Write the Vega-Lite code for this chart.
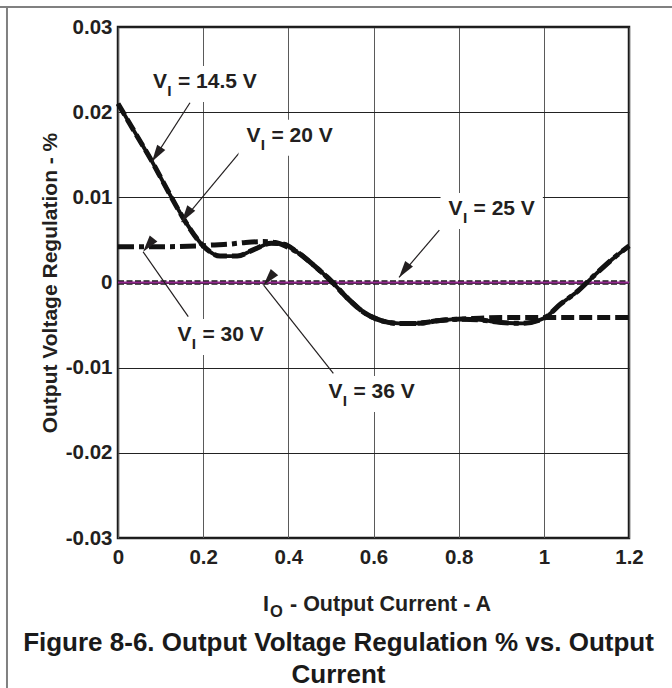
{
  "$schema": "https://vega.github.io/schema/vega-lite/v6.json",
  "width": 511,
  "height": 511,
  "autosize": {"type": "none"},
  "padding": {"left": 118, "top": 27, "right": 43, "bottom": 150},
  "background": "white",
  "config": {
    "view": {"stroke": "#1a1a1a", "strokeWidth": 2.5},
    "font": "Liberation Sans",
    "text": {"font": "Liberation Sans", "fontWeight": "bold", "color": "#231f20"}
  },
  "title": {
    "text": ["Figure 8-6. Output Voltage Regulation % vs. Output", "Current"],
    "orient": "bottom",
    "anchor": "middle",
    "frame": "group",
    "offset": -59,
    "dx": -35,
    "fontSize": 26,
    "font": "Liberation Sans",
    "fontWeight": "bold",
    "color": "#1a1a1a",
    "lineHeight": 32
  },
  "datasets": {
    "curves": [
      {"series": "25 V", "x": 0, "y": 0},
      {"series": "25 V", "x": 1.2, "y": 0},
      {"series": "36 V", "x": 0, "y": 0},
      {"series": "36 V", "x": 1.2, "y": 0},

      {"series": "14.5 V", "x": 0, "y": 0.0210},
      {"series": "14.5 V", "x": 0.04, "y": 0.0176},
      {"series": "14.5 V", "x": 0.08, "y": 0.0142},
      {"series": "14.5 V", "x": 0.12, "y": 0.0105},
      {"series": "14.5 V", "x": 0.16, "y": 0.0070},
      {"series": "14.5 V", "x": 0.20, "y": 0.0043},
      {"series": "14.5 V", "x": 0.24, "y": 0.0031},
      {"series": "14.5 V", "x": 0.28, "y": 0.0031},
      {"series": "14.5 V", "x": 0.32, "y": 0.0039},
      {"series": "14.5 V", "x": 0.36, "y": 0.0046},
      {"series": "14.5 V", "x": 0.39, "y": 0.0045},
      {"series": "14.5 V", "x": 0.42, "y": 0.0036},
      {"series": "14.5 V", "x": 0.46, "y": 0.0020},
      {"series": "14.5 V", "x": 0.50, "y": 0.0002},
      {"series": "14.5 V", "x": 0.54, "y": -0.0019},
      {"series": "14.5 V", "x": 0.58, "y": -0.0036},
      {"series": "14.5 V", "x": 0.62, "y": -0.0045},
      {"series": "14.5 V", "x": 0.66, "y": -0.0048},
      {"series": "14.5 V", "x": 0.70, "y": -0.0048},
      {"series": "14.5 V", "x": 0.75, "y": -0.0045},
      {"series": "14.5 V", "x": 0.80, "y": -0.0043},
      {"series": "14.5 V", "x": 0.85, "y": -0.0044},
      {"series": "14.5 V", "x": 0.90, "y": -0.0047},
      {"series": "14.5 V", "x": 0.95, "y": -0.0048},
      {"series": "14.5 V", "x": 1.00, "y": -0.0042},
      {"series": "14.5 V", "x": 1.04, "y": -0.0025},
      {"series": "14.5 V", "x": 1.08, "y": -0.0010},
      {"series": "14.5 V", "x": 1.12, "y": 0.0009},
      {"series": "14.5 V", "x": 1.16, "y": 0.0027},
      {"series": "14.5 V", "x": 1.20, "y": 0.0043},

      {"series": "20 V", "x": 0, "y": 0.0210},
      {"series": "20 V", "x": 0.04, "y": 0.0176},
      {"series": "20 V", "x": 0.08, "y": 0.0142},
      {"series": "20 V", "x": 0.12, "y": 0.0105},
      {"series": "20 V", "x": 0.16, "y": 0.0070},
      {"series": "20 V", "x": 0.20, "y": 0.0043},
      {"series": "20 V", "x": 0.24, "y": 0.0031},
      {"series": "20 V", "x": 0.28, "y": 0.0031},
      {"series": "20 V", "x": 0.32, "y": 0.0039},
      {"series": "20 V", "x": 0.36, "y": 0.0046},
      {"series": "20 V", "x": 0.39, "y": 0.0045},
      {"series": "20 V", "x": 0.42, "y": 0.0036},
      {"series": "20 V", "x": 0.46, "y": 0.0020},
      {"series": "20 V", "x": 0.50, "y": 0.0002},
      {"series": "20 V", "x": 0.54, "y": -0.0019},
      {"series": "20 V", "x": 0.58, "y": -0.0036},
      {"series": "20 V", "x": 0.62, "y": -0.0045},
      {"series": "20 V", "x": 0.66, "y": -0.0048},
      {"series": "20 V", "x": 0.70, "y": -0.0048},
      {"series": "20 V", "x": 0.75, "y": -0.0045},
      {"series": "20 V", "x": 0.80, "y": -0.0043},
      {"series": "20 V", "x": 0.85, "y": -0.0042},
      {"series": "20 V", "x": 0.90, "y": -0.0041},
      {"series": "20 V", "x": 1.00, "y": -0.0041},
      {"series": "20 V", "x": 1.10, "y": -0.0041},
      {"series": "20 V", "x": 1.20, "y": -0.0041},

      {"series": "30 V", "x": 0, "y": 0.0042},
      {"series": "30 V", "x": 0.10, "y": 0.0042},
      {"series": "30 V", "x": 0.19, "y": 0.0043},
      {"series": "30 V", "x": 0.22, "y": 0.0044},
      {"series": "30 V", "x": 0.26, "y": 0.0045},
      {"series": "30 V", "x": 0.30, "y": 0.0047},
      {"series": "30 V", "x": 0.34, "y": 0.0048},
      {"series": "30 V", "x": 0.37, "y": 0.0047},
      {"series": "30 V", "x": 0.40, "y": 0.0041},
      {"series": "30 V", "x": 0.42, "y": 0.0036},
      {"series": "30 V", "x": 0.46, "y": 0.0020},
      {"series": "30 V", "x": 0.50, "y": 0.0002},
      {"series": "30 V", "x": 0.54, "y": -0.0019},
      {"series": "30 V", "x": 0.58, "y": -0.0036},
      {"series": "30 V", "x": 0.62, "y": -0.0045},
      {"series": "30 V", "x": 0.66, "y": -0.0048},
      {"series": "30 V", "x": 0.70, "y": -0.0048},
      {"series": "30 V", "x": 0.75, "y": -0.0045},
      {"series": "30 V", "x": 0.80, "y": -0.0043},
      {"series": "30 V", "x": 0.85, "y": -0.0044},
      {"series": "30 V", "x": 0.90, "y": -0.0047},
      {"series": "30 V", "x": 0.95, "y": -0.0048},
      {"series": "30 V", "x": 1.00, "y": -0.0042},
      {"series": "30 V", "x": 1.04, "y": -0.0025},
      {"series": "30 V", "x": 1.08, "y": -0.0010},
      {"series": "30 V", "x": 1.12, "y": 0.0009},
      {"series": "30 V", "x": 1.16, "y": 0.0027},
      {"series": "30 V", "x": 1.20, "y": 0.0043}
    ],
    "notes": [
      {"series": "14.5 V", "text": "= 14.5 V", "lx": 0.121, "ly": 0.02284, "tx": 0.169, "ty": 0.0211, "hx": 0.080, "hy": 0.0142},
      {"series": "20 V", "text": "= 20 V", "lx": 0.3405, "ly": 0.01653, "tx": 0.2906, "ty": 0.01556, "hx": 0.1495, "hy": 0.0071},
      {"series": "25 V", "text": "= 25 V", "lx": 0.815, "ly": 0.00793, "tx": 0.7546, "ty": 0.00616, "hx": 0.66, "hy": 0.0006},
      {"series": "30 V", "text": "= 30 V", "lx": 0.1785, "ly": -0.00687, "tx": 0.165, "ty": -0.00401, "hx": 0.059, "hy": 0.0036},
      {"series": "36 V", "text": "= 36 V", "lx": 0.533, "ly": -0.01356, "tx": 0.5057, "ty": -0.01066, "hx": 0.342, "hy": -0.0003}
    ]
  },
  "layer": [
    {
      "data": {"name": "curves"},
      "transform": [{"filter": "datum.series === '25 V'"}],
      "mark": {"type": "line", "strokeWidth": 4.4, "strokeDash": [6, 2.5], "color": "#1a1a1a"},
      "encoding": {
        "x": {
          "field": "x", "type": "quantitative",
          "scale": {"domain": [0, 1.2], "nice": false, "zero": false},
          "axis": {
            "values": [0, 0.2, 0.4, 0.6, 0.8, 1, 1.2],
            "labelExpr": "format(datum.value, '~g')",
            "title": null,
            "domain": false, "ticks": false, "grid": true,
            "gridColor": "#5a5a5a", "gridWidth": 1,
            "labelFont": "Liberation Sans", "labelFontWeight": "bold", "labelFontSize": 20.5,
            "labelColor": "#231f20", "labelPadding": 9, "labelFlush": false, "labelOverlap": false
          }
        },
        "y": {
          "field": "y", "type": "quantitative",
          "scale": {"domain": [-0.03, 0.03], "nice": false, "zero": false},
          "axis": {
            "values": [-0.03, -0.02, -0.01, 0, 0.01, 0.02, 0.03],
            "labelExpr": "datum.value == 0 ? '0' : (datum.value < 0 ? '-' + format(-datum.value, '.2f') : format(datum.value, '.2f'))",
            "title": "Output Voltage Regulation - %",
            "titleFont": "Liberation Sans", "titleFontWeight": "bold", "titleFontSize": 21,
            "titleColor": "#231f20", "titlePadding": 5,
            "domain": false, "ticks": false, "grid": true,
            "gridColor": "#222222", "gridWidth": 1,
            "labelFont": "Liberation Sans", "labelFontWeight": "bold", "labelFontSize": 20.5,
            "labelColor": "#231f20", "labelPadding": 6, "labelFlush": false, "labelOverlap": false
          }
        }
      }
    },
    {
      "data": {"name": "curves"},
      "transform": [{"filter": "datum.series === '36 V'"}],
      "mark": {"type": "line", "strokeWidth": 2.2, "color": "#93298f"},
      "encoding": {"x": {"field": "x", "type": "quantitative"}, "y": {"field": "y", "type": "quantitative"}}
    },
    {
      "data": {"name": "curves"},
      "transform": [{"filter": "datum.series === '14.5 V'"}],
      "mark": {"type": "line", "strokeWidth": 3.8, "color": "#121212", "interpolate": "monotone"},
      "encoding": {"x": {"field": "x", "type": "quantitative"}, "y": {"field": "y", "type": "quantitative"}}
    },
    {
      "data": {"name": "curves"},
      "transform": [{"filter": "datum.series === '20 V'"}],
      "mark": {"type": "line", "strokeWidth": 5, "strokeDash": [13, 5], "color": "#121212", "interpolate": "monotone"},
      "encoding": {"x": {"field": "x", "type": "quantitative"}, "y": {"field": "y", "type": "quantitative"}}
    },
    {
      "data": {"name": "curves"},
      "transform": [{"filter": "datum.series === '30 V'"}],
      "mark": {"type": "line", "strokeWidth": 5, "strokeDash": [16, 5, 5, 5], "color": "#121212", "interpolate": "monotone"},
      "encoding": {"x": {"field": "x", "type": "quantitative"}, "y": {"field": "y", "type": "quantitative"}}
    },
    {
      "data": {"name": "notes"},
      "mark": {"type": "rule", "strokeWidth": 1.2, "color": "#231f20"},
      "encoding": {
        "x": {"field": "tx", "type": "quantitative"},
        "y": {"field": "ty", "type": "quantitative"},
        "x2": {"field": "hx"},
        "y2": {"field": "hy"}
      }
    },
    {
      "data": {"name": "notes"},
      "mark": {"type": "point", "shape": "M0,0L-0.6,2.1L0.6,2.1Z", "filled": true, "size": 260, "opacity": 1, "color": "#231f20", "strokeWidth": 0},
      "encoding": {
        "x": {"field": "hx", "type": "quantitative"},
        "y": {"field": "hy", "type": "quantitative"},
        "angle": {
          "field": "series", "type": "nominal",
          "scale": {"domain": ["14.5 V", "20 V", "25 V", "30 V", "36 V"], "range": [212.8, 219.8, 220.4, 325.1, 321.7]},
          "legend": null
        }
      }
    },
    {
      "data": {"name": "notes"},
      "mark": {"type": "point", "filled": true, "size": 10000, "opacity": 1, "fill": "white", "strokeWidth": 0},
      "encoding": {
        "x": {"field": "lx", "type": "quantitative"},
        "y": {"field": "ly", "type": "quantitative"},
        "shape": {
          "field": "series", "type": "nominal",
          "scale": {
            "domain": ["14.5 V", "20 V", "25 V", "30 V", "36 V"],
            "range": [
              "M-0.49,-0.44H1.906V0.28H-0.49Z",
              "M-0.49,-0.44H1.556V0.28H-0.49Z",
              "M-0.49,-0.44H1.556V0.28H-0.49Z",
              "M-0.49,-0.44H1.556V0.28H-0.49Z",
              "M-0.49,-0.44H1.556V0.28H-0.49Z"
            ]
          },
          "legend": null
        }
      }
    },
    {
      "data": {"name": "notes"},
      "mark": {"type": "text", "text": "V", "align": "right", "baseline": "alphabetic", "dx": -2.5, "fontSize": 21},
      "encoding": {
        "x": {"field": "lx", "type": "quantitative"},
        "y": {"field": "ly", "type": "quantitative"}
      }
    },
    {
      "data": {"name": "notes"},
      "mark": {"type": "text", "text": "I", "align": "center", "baseline": "alphabetic", "dy": 8, "fontSize": 15.5},
      "encoding": {
        "x": {"field": "lx", "type": "quantitative"},
        "y": {"field": "ly", "type": "quantitative"}
      }
    },
    {
      "data": {"name": "notes"},
      "mark": {"type": "text", "align": "left", "baseline": "alphabetic", "dx": 8.5, "fontSize": 21},
      "encoding": {
        "x": {"field": "lx", "type": "quantitative"},
        "y": {"field": "ly", "type": "quantitative"},
        "text": {"field": "text"}
      }
    },
    {
      "data": {"values": [{}]},
      "mark": {"type": "text", "text": "I", "align": "right", "baseline": "alphabetic", "fontSize": 21.5, "clip": false},
      "encoding": {"x": {"datum": 0.3546}, "y": {"datum": -0.0386}}
    },
    {
      "data": {"values": [{}]},
      "mark": {"type": "text", "text": "O", "align": "left", "baseline": "alphabetic", "dx": 1, "dy": 6, "fontSize": 16.5, "clip": false},
      "encoding": {"x": {"datum": 0.3546}, "y": {"datum": -0.0386}}
    },
    {
      "data": {"values": [{}]},
      "mark": {"type": "text", "text": "- Output Current - A", "align": "left", "baseline": "alphabetic", "dx": 21, "fontSize": 21.5, "clip": false},
      "encoding": {"x": {"datum": 0.3546}, "y": {"datum": -0.0386}}
    },
    {
      "data": {"values": [{}]},
      "mark": {"type": "rule", "color": "#808080", "strokeWidth": 2, "clip": false},
      "encoding": {"x": {"datum": -0.28}, "x2": {"datum": 1.31}, "y": {"datum": 0.03235}}
    },
    {
      "data": {"values": [{}]},
      "mark": {"type": "rule", "color": "#808080", "strokeWidth": 2, "clip": false},
      "encoding": {"x": {"datum": -0.2607}, "y": {"datum": 0.03235}, "y2": {"datum": -0.0476}}
    }
  ]
}
